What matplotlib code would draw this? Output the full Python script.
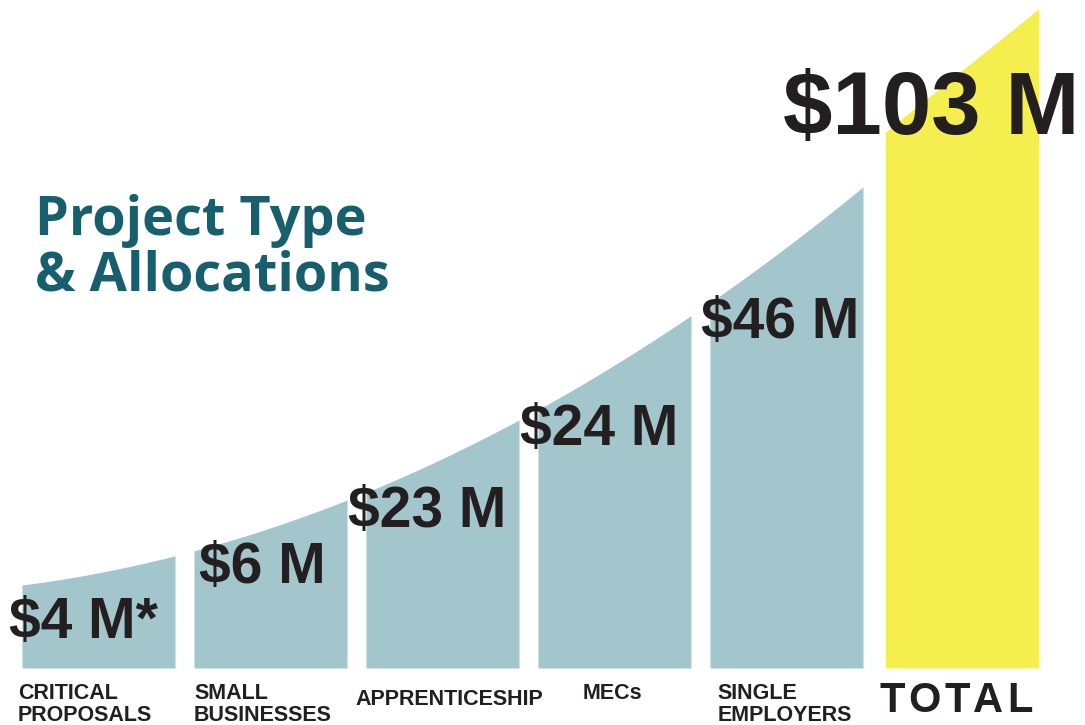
import numpy as np
import matplotlib.pyplot as plt

# ===== Data =====
categories = ["CRITICAL\nPROPOSALS", "SMALL\nBUSINESSES", "APPRENTICESHIP",
              "MECs", "SINGLE\nEMPLOYERS", "TOTAL"]
values = [4, 6, 23, 24, 46, 103]          # $ millions
value_labels = ["$4 M*", "$6 M", "$23 M", "$24 M", "$46 M", "$103 M"]

# ===== Style =====
TEAL_BAR = "#a3c6cc"
YELLOW = "#f4ee4e"
TITLE_COL = "#185f6e"
INK = "#231f20"
FONT = "Liberation Sans"
PX = 172.0          # pixels per x unit

BAR_W = 0.89

# decorative rising envelope for the bar tops (not proportional to values)
def envelope(x):
    t = x + BAR_W / 2
    return 83 + 22.0 * t + 12.15 * t ** 2

fig = plt.figure(figsize=(10.85, 7.25), dpi=100)
ax = fig.add_axes([0, 0, 1, 1])
ax.set_xlim(-98.5 / PX, (1085 - 98.5) / PX)
ax.set_ylim(-57, 668)
ax.axis("off")

pos = np.arange(len(categories), dtype=float)
pos[-1] += 0.02

# teal bars with curved tops
for i in range(len(values) - 1):
    xs = np.linspace(pos[i] - BAR_W / 2, pos[i] + BAR_W / 2, 40)
    ax.fill_between(xs, 0, envelope(xs), color=TEAL_BAR, lw=0)

# total bar with slanted top
tl, tr = pos[-1] - BAR_W / 2, pos[-1] + BAR_W / 2
ax.fill_between([tl, tr], 0, [536, 659], color=YELLOW, lw=0)

# value labels: (x offset from bar left, baseline)
label_pos = [(-0.075, 30), (0.03, 85), (-0.105, 141), (-0.105, 223),
             (-0.05, 330), (-0.595, 534)]
for i, lab in enumerate(value_labels):
    dx, y = label_pos[i]
    size = 64 if i == len(values) - 1 else 41
    ax.text(pos[i] - BAR_W / 2 + dx, y, lab, fontsize=size, fontweight="bold",
            family=FONT, color=INK, ha="left", va="baseline")

# category labels: (alignment, x offset, top)
cat_style = [("left", -0.025, -15), ("left", 0.0, -15), ("center", 0.04, -21),
             ("center", -0.01, -15), ("left", 0.045, -15)]
for i, (ha, dx, y) in enumerate(cat_style):
    x = pos[i] - BAR_W / 2 + dx if ha == "left" else pos[i] + dx
    ax.text(x, y, categories[i], fontsize=15.5, fontweight="bold", family=FONT,
            color=INK, ha=ha, va="top", linespacing=1.05)

# TOTAL with letter spacing
fig.canvas.draw()
renderer = fig.canvas.get_renderer()
x = tl - 6 / PX
for ch in categories[-1]:
    t = ax.text(x, -44, ch, fontsize=30, fontweight="bold", family=FONT,
                color=INK, ha="left", va="baseline")
    w = t.get_window_extent(renderer).width
    x += (w + 3.5) / PX

# title
ax.text(-0.368, 433, "Project Type", fontsize=39, fontweight="bold",
        family="Open Sans", color=TITLE_COL, ha="left", va="baseline")
ax.text(-0.368, 378, "& Allocations", fontsize=39, fontweight="bold",
        family="Open Sans", color=TITLE_COL, ha="left", va="baseline")

fig.savefig("out.png", dpi=100)
